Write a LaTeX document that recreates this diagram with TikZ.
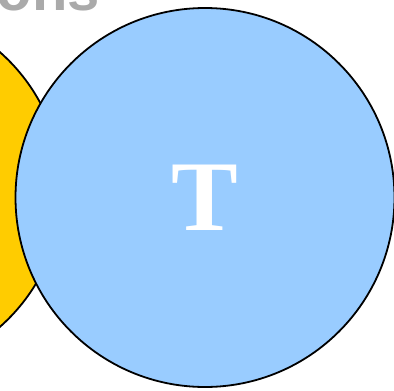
\documentclass[tikz,border=0pt]{standalone}
\usepackage{fontspec}
\newfontfamily\titlefont{Liberation Sans}
\newfontfamily\letterfont{Liberation Serif}
\usetikzlibrary{positioning}
\definecolor{setBlue}{RGB}{153,204,255}
\definecolor{setYellow}{RGB}{255,204,0}
\definecolor{titleGrey}{RGB}{170,170,170}

\begin{document}
\begin{tikzpicture}[x=1pt, y=-1pt,
    setcircle/.style={circle, draw=black, line width=1.8pt, inner sep=0pt}]
    % frame of the crop
    \useasboundingbox (0,0) rectangle (394,391);
    \clip (0,0) rectangle (394,391);
    % title, mostly outside the frame
    \node[titleGrey, anchor=base east, inner sep=0pt,
      font=\titlefont\bfseries\fontsize{58}{58}\selectfont] (title) at (100,10) {ons};
    % yellow set, cut off at the left
    \node[setcircle, fill=setYellow, minimum size=366pt] (setY) at (-121,189.5) {};
    % blue set T
    \node[setcircle, fill=setBlue, minimum size=379pt, text=white,
      font=\letterfont\bfseries\fontsize{100}{100}\selectfont] (setT) at (205,197.5) {T};
\end{tikzpicture}
\end{document}
